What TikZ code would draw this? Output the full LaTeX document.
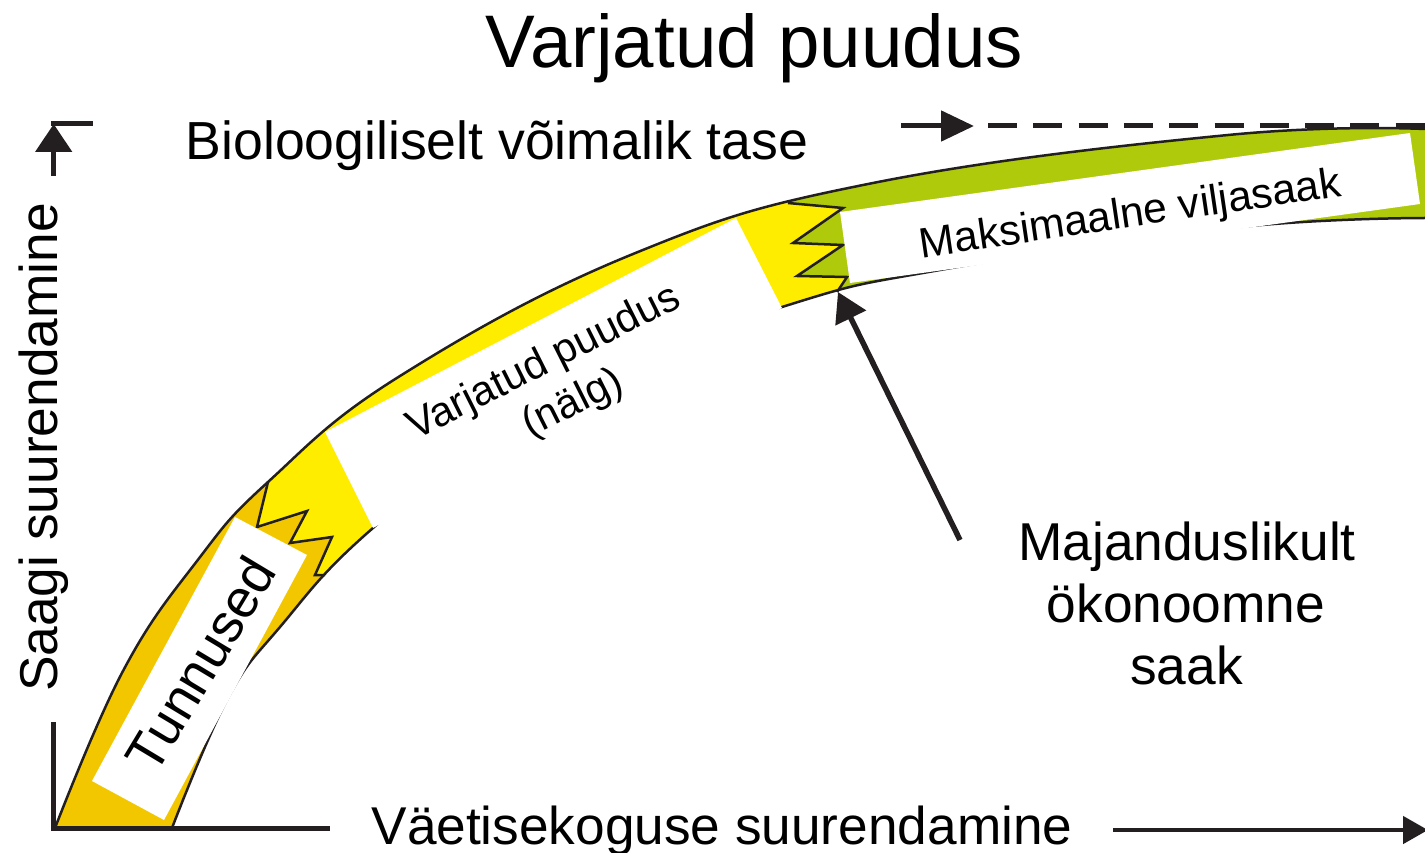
\documentclass[tikz,border=0pt]{standalone}
\usepackage{fontspec}
\setmainfont{Liberation Sans}
\usetikzlibrary{arrows.meta}
\definecolor{ink}{HTML}{231F20}
\definecolor{gold}{HTML}{F3C700}
\definecolor{lemon}{HTML}{FFED00}
\definecolor{leaf}{HTML}{AFCA0B}

\begin{document}
\begin{tikzpicture}[x=1pt,y=-1pt,
  edge/.style={draw=ink, line width=2.5pt, line join=miter},
  axisline/.style={draw=ink, line width=5pt, line join=miter},
  txt/.style={inner sep=0pt, anchor=base, text=black},
  fbig/.style={font=\fontsize{74.5}{84}\selectfont},
  fmain/.style={font=\fontsize{53.3}{62}\selectfont},
  fsmall/.style={font=\fontsize{41.5}{48}\selectfont},
  curve/.style={smooth,tension=0.7},
]
\useasboundingbox (0,0) rectangle (1425,853);

% band: yellow body
\fill[lemon] plot[curve] coordinates {(55,828) (123,671) (197,561) (268,482) (400,376) (633,254) (873,183) (1228,135) (1425,129)}
  -- plot[curve] coordinates {(1425,218) (1230,228) (940,270) (782,307) (550,392) (373,528) (280,627) (227,700) (172,828)} -- cycle;

% gold start and green end of the band
\begin{scope}
  \clip plot[curve] coordinates {(55,828) (123,671) (197,561) (268,482) (400,376) (633,254) (873,183) (1228,135) (1425,129)}
  -- plot[curve] coordinates {(1425,218) (1230,228) (940,270) (782,307) (550,392) (373,528) (280,627) (227,700) (172,828)} -- cycle;
  \fill[gold] (0,860) -- (0,380) -- (268,380) -- (268,482) -- (257,527) -- (307,511)
    -- (290,543) -- (332,537) -- (315,575) -- (325,575) -- (335,640) -- (335,860) -- cycle;
  \fill[leaf] (788,120) -- (788,203) -- (843,208) -- (793,243) -- (843,245) -- (797,276)
    -- (847,277) -- (837,292) -- (837,420) -- (1500,420) -- (1500,120) -- cycle;
\end{scope}

% saw-tooth borders between the zones
\draw[edge] (268,482) -- (257,527) -- (307,511) -- (290,543) -- (332,537) -- (315,575) -- (325,575);
\draw[edge] (788,203) -- (843,208) -- (793,243) -- (843,245) -- (797,276) -- (847,277) -- (837,292);

% band outlines
\draw[edge] plot[curve] coordinates {(55,828) (123,671) (197,561) (268,482) (400,376) (633,254) (873,183) (1228,135) (1425,129)};
\draw[edge] plot[curve] coordinates {(172,828) (227,700) (280,627) (373,528) (550,392) (782,307) (940,270) (1230,228) (1425,218)};

% label panels
\fill[white] (92,781) -- (164,820) -- (307,555) -- (235,517) -- cycle;
\fill[white] (325,432) -- (736,218) -- (782,308) -- (373,528) -- cycle;
\fill[white] (840,212) -- (1410,133) -- (1420,204) -- (850,283) -- cycle;

% labels
\node[txt, fbig] (title) at (754.5,68) {Varjatud puudus};
\node[txt, font=\fontsize{53.6}{62}\selectfont] (level) at (497,160) {Bioloogiliselt võimalik tase};
\node[txt, font=\fontsize{53.2}{62}\selectfont] (xlabel) at (722,844) {Väetisekoguse suurendamine};
\node[txt, fmain, rotate=90] (ylabel) at (57,447.5) {Saagi suurendamine};
\node[txt, font=\fontsize{54}{62}\selectfont, rotate=59] (signs) at (217,674) {Tunnused};
\node[txt, fsmall, rotate=26.65] (hidden1) at (549,373) {Varjatud puudus};
\node[txt, fsmall, rotate=26.65] (hidden2) at (578,414) {(nälg)};
\node[txt, font=\fontsize{42.5}{50}\selectfont, rotate=8.4] (maxyield) at (1132,227) {Maksimaalne viljasaak};
\node[txt, fmain] (econ1) at (1187,560) {Majanduslikult};
\node[txt, fmain] (econ2) at (1186,622) {ökonoomne};
\node[txt, fmain] (econ3) at (1186.5,684) {saak};

% axes
\coordinate (ytop) at (53.7,722);
\coordinate (origin) at (53.7,828.7);
\coordinate (xend) at (330,828.7);
\draw[axisline] (ytop) -- (origin) -- (xend);

\coordinate (yarrowtail) at (53.7,176);
\coordinate (yarrowtip) at (53.7,124);
\coordinate (ylevelstart) at (51.2,124);
\coordinate (ylevelend) at (93,124);
\draw[axisline, -{Triangle[length=28pt,width=36pt]}] (yarrowtail) -- (yarrowtip);
\draw[axisline] (ylevelstart) -- (ylevelend);

\coordinate (xarrowtail) at (1113,830);
\coordinate (xarrowtip) at (1428,830);
\draw[draw=ink, line width=4.7pt, -{Triangle[length=25pt,width=27pt]}] (xarrowtail) -- (xarrowtip);

% biological level marker
\coordinate (levtail) at (901,126);
\coordinate (levtip) at (974,126);
\coordinate (dashstart) at (988,126);
\coordinate (dashend) at (1426,126);
\draw[axisline, -{Triangle[length=33pt,width=30pt]}] (levtail) -- (levtip);
\draw[axisline, dash pattern=on 29pt off 16.3pt] (dashstart) -- (dashend);

% pointer to the economic optimum
\coordinate (econtail) at (960,540);
\coordinate (econtip) at (838,292);
\draw[draw=ink, line width=5.5pt, -{Triangle[length=29pt,width=33pt]}] (econtail) -- (econtip);
\end{tikzpicture}
\end{document}
